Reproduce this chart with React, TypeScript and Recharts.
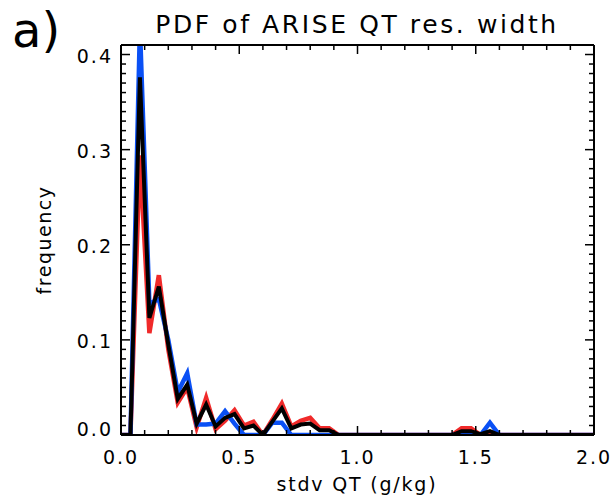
import React from 'react';
import { LineChart, Line, XAxis, YAxis } from 'recharts';

// bin centres (stdv QT, g/kg)
const xValues = [
  0.0, 0.04, 0.08, 0.12, 0.16, 0.2, 0.24, 0.28, 0.32, 0.36,
  0.4, 0.44, 0.48, 0.52, 0.56, 0.6, 0.64, 0.68, 0.72, 0.76,
  0.8, 0.84, 0.88, 0.92, 0.96, 1.0, 1.04, 1.08, 1.12, 1.16,
  1.2, 1.24, 1.28, 1.32, 1.36, 1.4, 1.44, 1.48, 1.52, 1.56,
  1.6, 1.64, 1.68, 1.72, 1.76, 1.8, 1.84, 1.88, 1.92, 1.96, 2.0,
];

const redValues = [
  0, 0, 0.294, 0.107, 0.168, 0.09, 0.034, 0.05, 0.008, 0.039,
  0.006, 0.015, 0.026, 0.01, 0.014, 0, 0.016, 0.033, 0.009, 0.015,
  0.018, 0.007, 0.007, 0, 0, 0, 0, 0, 0, 0,
  0, 0, 0, 0, 0, 0, 0.007, 0.007, 0, 0,
  0, 0, 0, 0, 0, 0, 0, 0, 0, 0, 0,
];

const blueValues = [
  0, 0, 0.43, 0.138, 0.143, 0.1, 0.045, 0.065, 0.011, 0.011,
  0.012, 0.025, 0.012, 0, 0, 0, 0.013, 0.013, 0, 0,
  0, 0, 0, 0, 0, 0, 0, 0, 0, 0,
  0, 0, 0, 0, 0, 0, 0.002, 0.002, 0, 0.013,
  0, 0, 0, 0, 0, 0, 0, 0, 0, 0, 0,
];

const blackValues = [
  0, 0, 0.376, 0.123, 0.156, 0.095, 0.038, 0.053, 0.012, 0.032,
  0.009, 0.018, 0.022, 0.007, 0.01, 0, 0.014, 0.028, 0.007, 0.011,
  0.012, 0.005, 0.005, 0, 0, 0, 0, 0, 0, 0,
  0, 0, 0, 0, 0, 0, 0.004, 0.004, 0.001, 0.004,
  0, 0, 0, 0, 0, 0, 0, 0, 0, 0, 0,
];

const xTicks = [
  0, 0.1, 0.2, 0.3, 0.4, 0.5, 0.6, 0.7, 0.8, 0.9, 1.0,
  1.1, 1.2, 1.3, 1.4, 1.5, 1.6, 1.7, 1.8, 1.9, 2.0,
];
const xTickLabels = ['0.0', '0.5', '1.0', '1.5', '2.0'];

const yTicks = [
  0, 0.01, 0.02, 0.03, 0.04, 0.05, 0.06, 0.07, 0.08, 0.09,
  0.1, 0.11, 0.12, 0.13, 0.14, 0.15, 0.16, 0.17, 0.18, 0.19,
  0.2, 0.21, 0.22, 0.23, 0.24, 0.25, 0.26, 0.27, 0.28, 0.29,
  0.3, 0.31, 0.32, 0.33, 0.34, 0.35, 0.36, 0.37, 0.38, 0.39, 0.4,
];
const yTickLabels = ['0.0', '0.1', '0.2', '0.3', '0.4'];

const data = xValues.map((x, i) => ({
  x,
  red: redValues[i],
  blue: blueValues[i],
  black: blackValues[i],
}));

const FONT = '"DejaVu Sans", sans-serif';
const MAJOR = 9;
const MINOR = 5;

const isXMajor = (v: number) => Math.abs(v * 2 - Math.round(v * 2)) < 1e-6;
const isYMajor = (v: number) => Math.abs(v * 10 - Math.round(v * 10)) < 1e-6;

const BottomTick = (props: any) => {
  const { x, y, payload } = props;
  const v = payload.value;
  const major = isXMajor(v);
  const label = major ? xTickLabels[Math.round(v * 2)] : null;
  return (
    <g>
      <line x1={x} x2={x} y1={y} y2={y - (major ? MAJOR : MINOR)} stroke="#000" strokeWidth={1.5} />
      {label && (
        <text x={x} y={y + 29} textAnchor="middle" fontFamily={FONT} fontSize={19} letterSpacing={2} fill="#000">
          {label}
        </text>
      )}
    </g>
  );
};

const TopTick = (props: any) => {
  const { x, y, payload } = props;
  const major = isXMajor(payload.value);
  return <line x1={x} x2={x} y1={y} y2={y + (major ? MAJOR : MINOR)} stroke="#000" strokeWidth={1.5} />;
};

const LeftTick = (props: any) => {
  const { x, y, payload } = props;
  const v = payload.value;
  const major = isYMajor(v);
  const label = major ? yTickLabels[Math.round(v * 10)] : null;
  return (
    <g>
      <line x1={x} x2={x + (major ? MAJOR : MINOR)} y1={y} y2={y} stroke="#000" strokeWidth={1.5} />
      {label && (
        <text x={x - 8} y={y + (v === 0 ? 1 : 8)} textAnchor="end" fontFamily={FONT} fontSize={19} letterSpacing={2} fill="#000">
          {label}
        </text>
      )}
    </g>
  );
};

const RightTick = (props: any) => {
  const { x, y, payload } = props;
  const major = isYMajor(payload.value);
  return <line x1={x} x2={x - (major ? MAJOR : MINOR)} y1={y} y2={y} stroke="#000" strokeWidth={1.5} />;
};

export default function App() {
  return (
    <div style={{ position: 'absolute', left: 0, top: 0, width: 615, height: 498, background: '#fff' }}>
      <LineChart
        width={615}
        height={498}
        data={data}
        margin={{ top: 44, right: 20, bottom: 62, left: 120 }}
      >
        <XAxis
          xAxisId="bottom"
          dataKey="x"
          type="number"
          domain={[0, 2]}
          ticks={xTicks}
          interval={0}
          height={1}
          tickSize={0}
          tickMargin={0}
          tickLine={false}
          axisLine={{ stroke: '#000', strokeWidth: 2 }}
          tick={BottomTick}
        />
        <XAxis
          xAxisId="top"
          orientation="top"
          dataKey="x"
          type="number"
          domain={[0, 2]}
          ticks={xTicks}
          interval={0}
          height={1}
          tickSize={0}
          tickMargin={0}
          tickLine={false}
          axisLine={{ stroke: '#000', strokeWidth: 2 }}
          tick={TopTick}
        />
        <YAxis
          yAxisId="left"
          type="number"
          domain={[0, 0.41]}
          allowDataOverflow
          ticks={yTicks}
          interval={0}
          width={1}
          tickSize={0}
          tickMargin={0}
          tickLine={false}
          axisLine={{ stroke: '#000', strokeWidth: 2 }}
          tick={LeftTick}
        />
        <YAxis
          yAxisId="right"
          orientation="right"
          type="number"
          domain={[0, 0.41]}
          allowDataOverflow
          ticks={yTicks}
          interval={0}
          width={1}
          tickSize={0}
          tickMargin={0}
          tickLine={false}
          axisLine={{ stroke: '#000', strokeWidth: 2 }}
          tick={RightTick}
        />
        <Line xAxisId="bottom" yAxisId="left" type="linear" dataKey="red" stroke="#f02a2a" strokeWidth={4.5} dot={false} isAnimationActive={false} />
        <Line xAxisId="bottom" yAxisId="left" type="linear" dataKey="blue" stroke="#0a50f5" strokeWidth={4.5} dot={false} isAnimationActive={false} />
        <Line xAxisId="bottom" yAxisId="left" type="linear" dataKey="black" stroke="#000" strokeWidth={4} dot={false} isAnimationActive={false} />
      </LineChart>
      <svg width={615} height={498} style={{ position: 'absolute', left: 0, top: 0, pointerEvents: 'none' }}>
        <text x={12} y={47} fontFamily={FONT} fontSize={48} fill="#000">a)</text>
        <text x={357} y={33} textAnchor="middle" fontFamily={FONT} fontSize={25} letterSpacing={2.6} fill="#000">
          PDF of ARISE QT res. width
        </text>
        <text
          x={0}
          y={0}
          transform="translate(51,240) rotate(-90)"
          textAnchor="middle"
          fontFamily={FONT}
          fontSize={19}
          letterSpacing={1.5}
          fill="#000"
        >
          frequency
        </text>
        <text x={357} y={491} textAnchor="middle" fontFamily={FONT} fontSize={19} letterSpacing={1.8} fill="#000">
          stdv QT (g/kg)
        </text>
      </svg>
    </div>
  );
}
